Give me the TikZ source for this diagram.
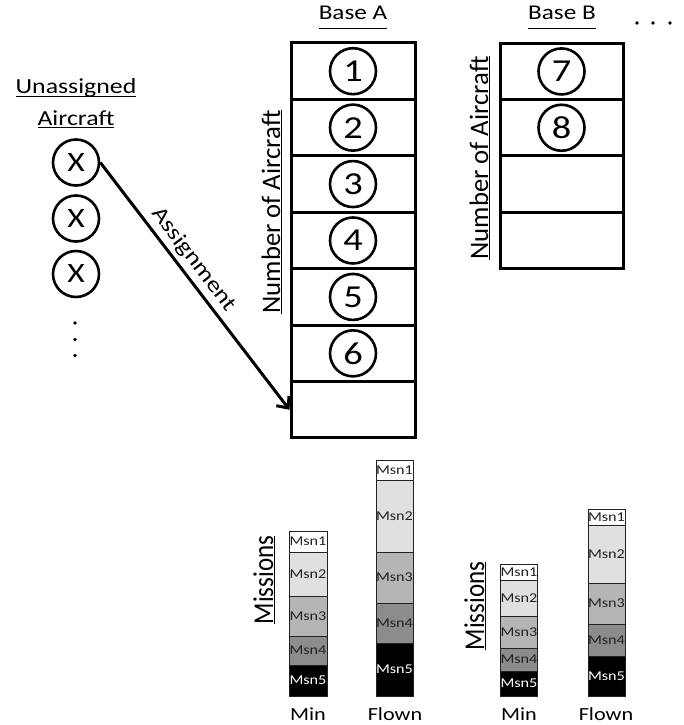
\documentclass[tikz,border=0pt]{standalone}
\usepackage{fontspec}
\setmainfont{Carlito}[FakeStretch=1.2]
\newfontfamily\vfont{Carlito}
\usetikzlibrary{arrows.meta}
\definecolor{msnB}{HTML}{E0E0E0}
\definecolor{msnC}{HTML}{B5B5B5}
\definecolor{msnD}{HTML}{8C8C8C}
\definecolor{msnT}{HTML}{222222}
\newcommand\ulx[2][0.2em]{\leavevmode\setbox0\hbox{#2}\rlap{\rule[-#1]{\wd0}{1.3pt}}\box0}
\newcommand\seg[7]{% name, xc, w, ytop, ybot, style, text
  \node[msnbox,#6,minimum width=#3pt,minimum height={(#5-#4)*1pt}] (#1) at (#2,{(#4+#5)/2}) {#7};}
\begin{document}
\begin{tikzpicture}[x=1pt,y=-1pt,
  rowbox/.style={draw,line width=3pt,minimum width=124pt,minimum height=56.4pt,inner sep=0pt},
  numcirc/.style={draw,circle,line width=2.6pt,minimum size=46pt,inner sep=0pt,font=\fontsize{32}{32}\selectfont},
  xcirc/.style={draw,circle,line width=2.6pt,minimum size=46pt,inner sep=0pt,font=\fontsize{28}{28}\selectfont},
  header/.style={anchor=base,inner sep=0pt,font=\fontsize{21}{21}\selectfont},
  vlabel/.style={anchor=base,rotate=90,inner sep=0pt},
  msnbox/.style={draw=msnT,line width=1pt,inner sep=0pt,text=msnT,font=\fontsize{13.5}{13.5}\selectfont},
  m1/.style={fill=white},
  m2/.style={fill=msnB},
  m3/.style={fill=msnC},
  m4/.style={fill=msnD},
  m5/.style={fill=black,text=white},
  axislabel/.style={anchor=base,inner sep=0pt,font=\fontsize{18.5}{18.5}\selectfont},
  dot/.style={circle,fill=black,inner sep=0pt,minimum size=3.6pt},
  arrowline/.style={line width=3pt,-{Straight Barb[length=9pt,width=16pt]}}
]
\useasboundingbox (0,0) rectangle (683,725);

% Headers
\node[header] (hA) at (353,19.3) {\ulx[0.46em]{Base A}};
\node[header] (hB) at (562,19.3) {\ulx[0.46em]{Base B}};
\node[header,font=\fontsize{21.5}{21.5}\selectfont] (hU1) at (76,93) {\ulx[0.2em]{Unassigned}};
\node[header,font=\fontsize{21.5}{21.5}\selectfont] (hU2) at (76,125) {\ulx[0.15em]{Aircraft}};

% Top-right dots
\node[dot] (d1) at (637,23) {};
\node[dot] (d2) at (653,23) {};
\node[dot] (d3) at (670,23) {};

% Base A rows
\foreach \i [count=\k from 0] in {1,...,7}{
  \node[rowbox] (A\i) at (353,{43+28.2+56.43*\k}) {};
}
\foreach \i in {1,...,6}{
  \node[numcirc] (cA\i) at (A\i) {\i};
}
% Base B rows
\foreach \i [count=\k from 0] in {1,...,4}{
  \node[rowbox,minimum width=123pt,minimum height=56.3pt] (B\i) at (561.5,{43.3+28.15+56.3*\k}) {};
}
\node[numcirc] (cB1) at (B1) {7};
\node[numcirc] (cB2) at (B2) {8};

% Vertical labels
\node[vlabel] (nA) at (280,212) {\vfont\fontsize{26.7}{26.7}\selectfont\ulx[0.08em]{Number of Aircraft}};
\node[vlabel] (nB) at (488,158) {\vfont\fontsize{26.7}{26.7}\selectfont\ulx[0.08em]{Number of Aircraft}};

% Unassigned aircraft
\node[xcirc] (x1) at (76,162.5) {X};
\node[xcirc] (x2) at (76,218.5) {X};
\node[xcirc] (x3) at (76,274) {X};
\node[dot] (v1) at (75,323) {};
\node[dot] (v2) at (75,339.5) {};
\node[dot] (v3) at (75,355.5) {};

% Assignment arrow
\draw[arrowline] (x1.east) -- (A7.west)
  node[pos=0.43,sloped,above,inner sep=4pt,font=\fontsize{22}{22}\selectfont] (asg) {Assignment};

% Missions labels
\node[vlabel] (mA) at (273,580) {\scalebox{1}[1.15]{\vfont\fontsize{25}{25}\selectfont\ulx[0.08em]{Missions}}};
\node[vlabel] (mB) at (484,606) {\scalebox{1}[1.15]{\vfont\fontsize{25}{25}\selectfont\ulx[0.08em]{Missions}}};

% Base A min
\seg{amin1}{308}{38}{531}{552}{m1}{Msn1}
\seg{amin2}{308}{38}{552}{596}{m2}{Msn2}
\seg{amin3}{308}{38}{596}{636}{m3}{Msn3}
\seg{amin4}{308}{38}{636}{665}{m4}{Msn4}
\seg{amin5}{308}{38}{665}{696}{m5}{Msn5}
% Base A flown
\seg{afl1}{394.5}{37}{460}{480}{m1}{Msn1}
\seg{afl2}{394.5}{37}{480}{552}{m2}{Msn2}
\seg{afl3}{394.5}{37}{552}{603}{m3}{Msn3}
\seg{afl4}{394.5}{37}{603}{643}{m4}{Msn4}
\seg{afl5}{394.5}{37}{643}{696}{m5}{Msn5}
% Base B min
\seg{bmin1}{519}{36}{564}{580}{m1}{Msn1}
\seg{bmin2}{519}{36}{580}{616}{m2}{Msn2}
\seg{bmin3}{519}{36}{616}{648}{m3}{Msn3}
\seg{bmin4}{519}{36}{648}{671}{m4}{Msn4}
\seg{bmin5}{519}{36}{671}{696}{m5}{Msn5}
% Base B flown
\seg{bfl1}{606.5}{37}{509}{525}{m1}{Msn1}
\seg{bfl2}{606.5}{37}{525}{583}{m2}{Msn2}
\seg{bfl3}{606.5}{37}{583}{624}{m3}{Msn3}
\seg{bfl4}{606.5}{37}{624}{656}{m4}{Msn4}
\seg{bfl5}{606.5}{37}{656}{696}{m5}{Msn5}

% Axis labels
\node[axislabel] (lamin) at (308,720) {Min};
\node[axislabel] (lafl) at (395,720) {Flown};
\node[axislabel] (lbmin) at (519,720) {Min};
\node[axislabel] (lbfl) at (606,720) {Flown};
\end{tikzpicture}
\end{document}
